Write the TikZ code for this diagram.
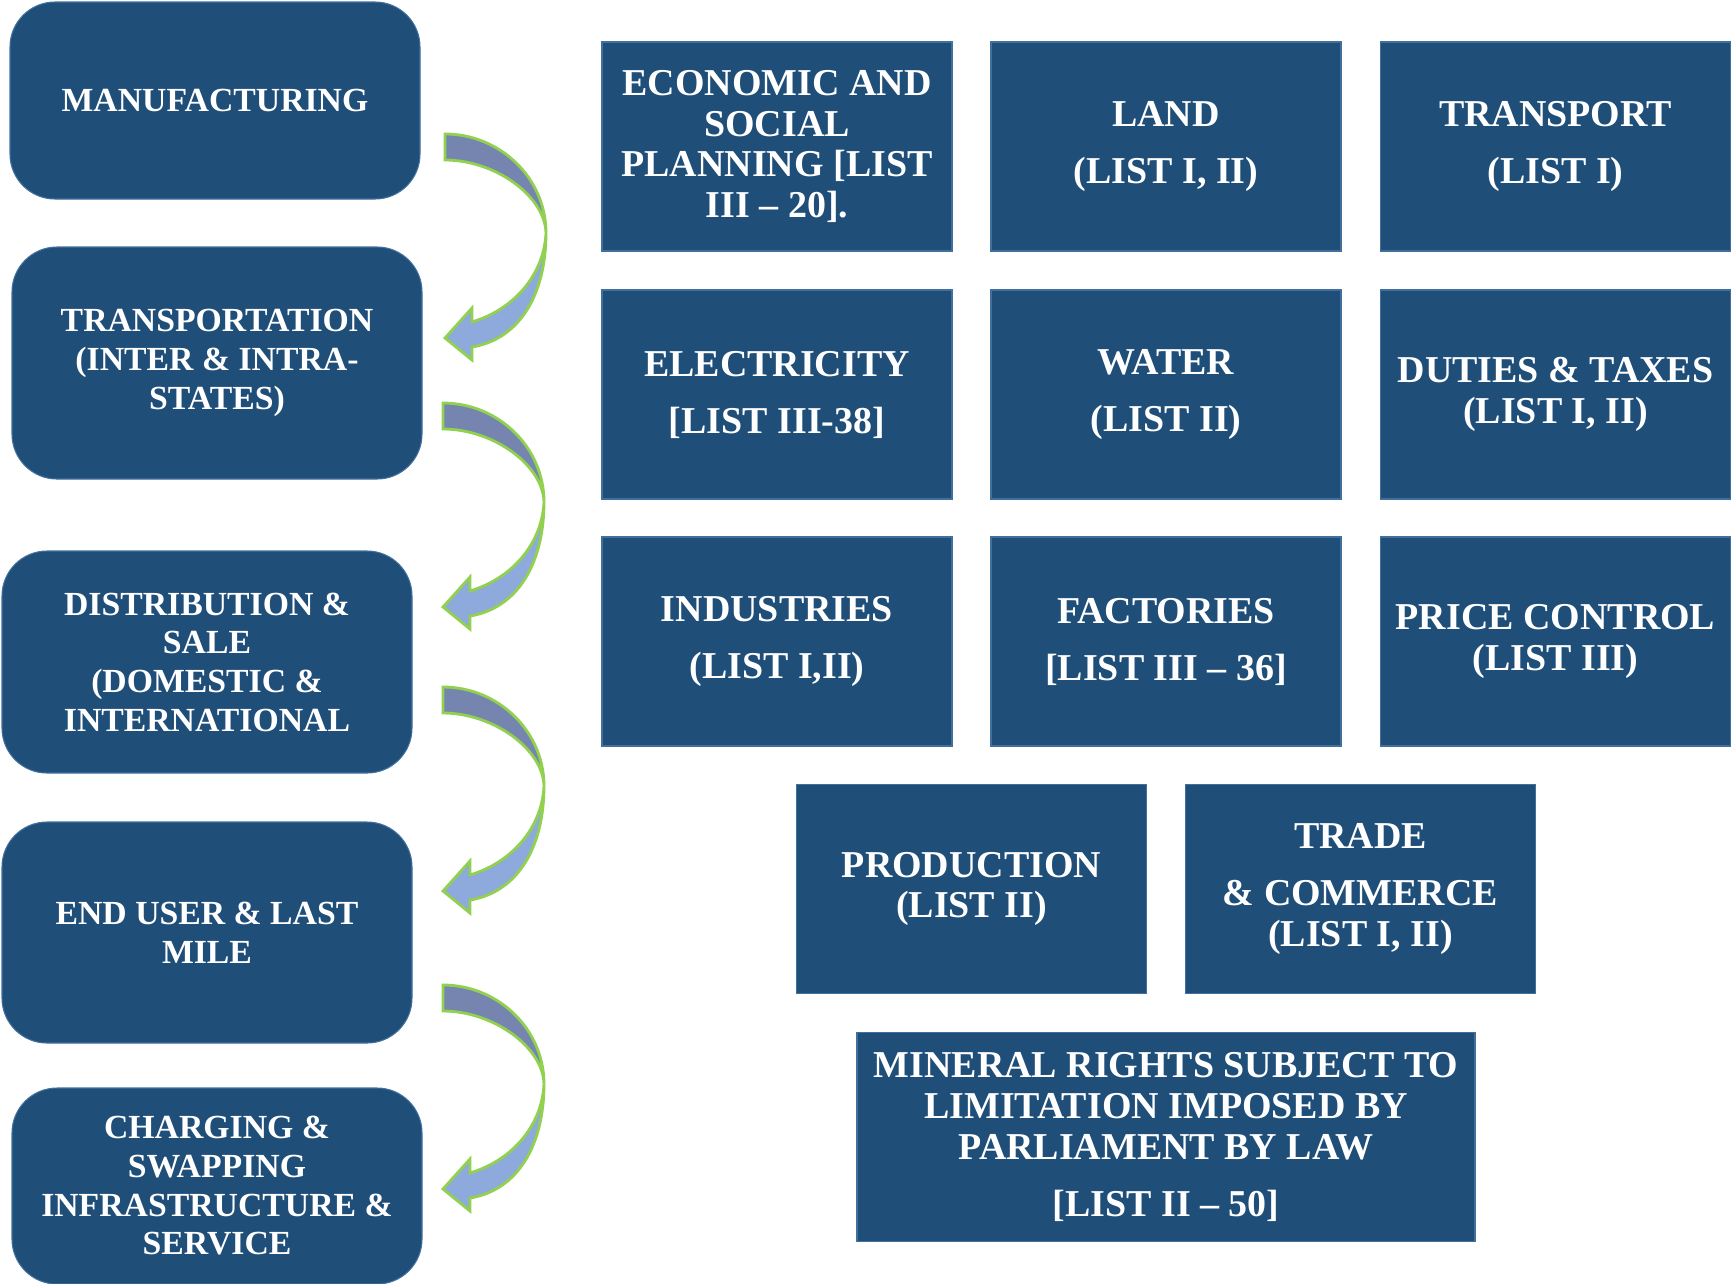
\documentclass[tikz,border=0pt]{standalone}
\usepackage{fontspec}
\setmainfont{Liberation Serif}
\definecolor{boxblue}{HTML}{1F4E79}
\definecolor{boxedge}{HTML}{41709E}
\definecolor{arrdark}{HTML}{7585B0}
\definecolor{arrlight}{HTML}{8EA9DB}
\definecolor{arredge}{HTML}{92D050}
\begin{document}
\begin{tikzpicture}[x=0.1mm,y=-0.1mm,
  flowbox/.style={draw=boxedge, line width=0.3pt, fill=boxblue, rounded corners=4.5mm,
    minimum width=41mm, text=white, align=center,
    font=\fontsize{9.6}{11}\selectfont\bfseries, inner sep=0pt},
  listbox/.style={draw=boxedge, line width=0.3pt, fill=boxblue,
    minimum width=35mm, minimum height=20.9mm, text=white, align=center,
    font=\fontsize{10.8}{11.6}\selectfont\bfseries, inner sep=0pt},
  arrup/.style={fill=arrdark, draw=arredge, line width=0.8pt},
  arrlow/.style={fill=arrlight, draw=arredge, line width=0.8pt},
  pics/curvearrow/.style={code={
    \filldraw[arrup] (0,0) .. controls (55,0) and (101,44) .. (101,99)
      .. controls (100,62) and (50,26) .. (0,26) -- cycle;
    \filldraw[arrlow] (101,99) .. controls (101,160) and (75,205) .. (27,213)
      -- (27,226) -- (0,204) -- (27,174) -- (27,188)
      .. controls (70,175) and (99,140) .. (101,99) -- cycle;
  }}]
\useasboundingbox (0,0) rectangle (1734,1283);

% left flow boxes
\node[flowbox, minimum height=19.7mm] (manu) at (215,100.5) {MANUFACTURING};
\node[flowbox, minimum height=23.2mm] (trans) at (217,363) {TRANSPORTATION\\(INTER \& INTRA-\\STATES)};
\node[flowbox, minimum height=22.2mm] (dist) at (207,662) {DISTRIBUTION \&\\SALE\\(DOMESTIC \&\\INTERNATIONAL};
\node[flowbox, minimum height=22.1mm] (enduser) at (207,932.5) {END USER \& LAST\\MILE};
\node[flowbox, minimum height=19.6mm] (charge) at (217,1186) {CHARGING \&\\SWAPPING\\INFRASTRUCTURE \&\\SERVICE};

% curved arrows
\pic at (445,134) {curvearrow};
\pic at (443,403) {curvearrow};
\pic at (443,687) {curvearrow};
\pic at (443,985) {curvearrow};

% right list boxes
\node[listbox] (econ) at (777,146.5) {ECONOMIC AND\\SOCIAL\\PLANNING {[}LIST\\III – 20].};
\node[listbox] (land) at (1166,146.5) {LAND\\[4.6pt](LIST I, II)};
\node[listbox] (transp) at (1555.5,146.5) {TRANSPORT\\[4.6pt](LIST I)};
\node[listbox] (elec) at (777,394.5) {ELECTRICITY\\[4.6pt]{[}LIST III-38]};
\node[listbox] (water) at (1166,394.5) {WATER\\[4.6pt](LIST II)};
\node[listbox] (duties) at (1555.5,394.5) {DUTIES \& TAXES\\(LIST I, II)};
\node[listbox] (ind) at (777,641.5) {INDUSTRIES\\[4.6pt](LIST I,II)};
\node[listbox] (fact) at (1166,641.5) {FACTORIES\\[4.6pt]{[}LIST III – 36]};
\node[listbox] (price) at (1555.5,641.5) {PRICE CONTROL\\(LIST III)};
\node[listbox] (prod) at (971.5,889) {PRODUCTION\\(LIST II)};
\node[listbox] (trade) at (1360.5,889) {TRADE\\[4.6pt]\& COMMERCE\\(LIST I, II)};
\node[listbox, minimum width=61.8mm] (mineral) at (1166,1137) {MINERAL RIGHTS SUBJECT TO\\LIMITATION IMPOSED BY\\PARLIAMENT BY LAW\\[4.6pt]{[}LIST II – 50]};
\end{tikzpicture}
\end{document}
